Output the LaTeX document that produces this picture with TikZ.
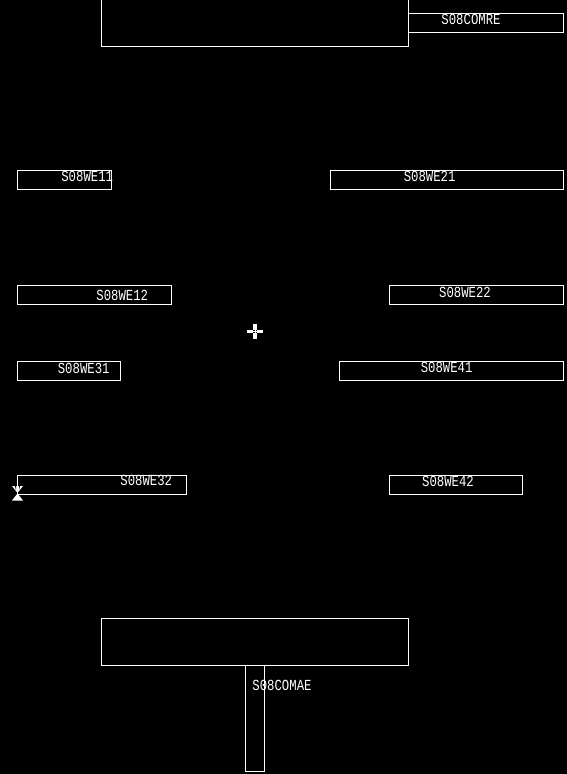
\documentclass[tikz,border=0pt]{standalone}
\usepackage{fontspec}
\setmainfont{Liberation Mono}
\tikzset{
  x=1pt,y=-1pt,
  wire/.style={draw=white,line width=1pt,fill=none},
  lbl/.style={text=white,inner sep=0pt,anchor=center,yshift=0.8pt,font=\fontsize{12.3}{12.3}\selectfont},
  mark fill/.style={fill=white,draw=none}
}
\newcommand{\lab}[1]{\scalebox{1}[1.25]{#1}}
\begin{document}
\begin{tikzpicture}
\fill[black] (0,0) rectangle (567,774);
\useasboundingbox (0,0) rectangle (567,774);
% large boxes
\draw[wire] (101.5,0) -- (101.5,46.5) -- (408.5,46.5) -- (408.5,0);
\draw[wire] (101.5,618.5) rectangle (408.5,665.5);
% port boxes
\draw[wire] (408.5,13.5) rectangle (563.5,32.5);
\draw[wire] (17.5,170.5) rectangle (111.5,189.5);
\draw[wire] (330.5,170.5) rectangle (563.5,189.5);
\draw[wire] (17.5,285.5) rectangle (171.5,304.5);
\draw[wire] (389.5,285.5) rectangle (563.5,304.5);
\draw[wire] (17.5,361.5) rectangle (120.5,380.5);
\draw[wire] (339.5,361.5) rectangle (563.5,380.5);
\draw[wire] (17.5,475.5) rectangle (186.5,494.5);
\draw[wire] (389.5,475.5) rectangle (522.5,494.5);
\draw[wire] (245.5,665.5) rectangle (264.5,771.5);
% labels
\node[lbl] (comre) at (471,20.5) {\lab{S08COMRE}};
\node[lbl] (we11) at (87.2,177) {\lab{S08WE11}};
\node[lbl] (we21) at (429.6,177.5) {\lab{S08WE21}};
\node[lbl] (we12) at (122.3,296) {\lab{S08WE12}};
\node[lbl] (we22) at (465,293) {\lab{S08WE22}};
\node[lbl] (we31) at (83.7,369) {\lab{S08WE31}};
\node[lbl] (we41) at (446.6,368) {\lab{S08WE41}};
\node[lbl] (we32) at (146.3,481) {\lab{S08WE32}};
\node[lbl] (we42) at (448,482) {\lab{S08WE42}};
\node[lbl] (comae) at (282,686) {\lab{S08COMAE}};
% crossing marker
\fill[mark fill] (247,329.7) rectangle (253,332.7);
\fill[mark fill] (257,329.7) rectangle (262.5,332.7);
\fill[mark fill] (253.3,324) rectangle (256.7,329.5);
\fill[mark fill] (253.3,333) rectangle (256.7,338.5);
\fill[mark fill] (253,331) rectangle (257,331.5);
\fill[mark fill] (254.75,329.5) rectangle (255.25,333);
% triangles at the corner
\fill[mark fill] (12,486) -- (23,486) -- (17.5,493) -- cycle;
\fill[black] (15,486) -- (16,486) -- (16,490) -- cycle;
\fill[black] (19,486) -- (20,486) -- (19,490) -- cycle;
\fill[mark fill] (12,500.5) -- (23,500.5) -- (17.5,493.5) -- cycle;
\end{tikzpicture}
\end{document}
